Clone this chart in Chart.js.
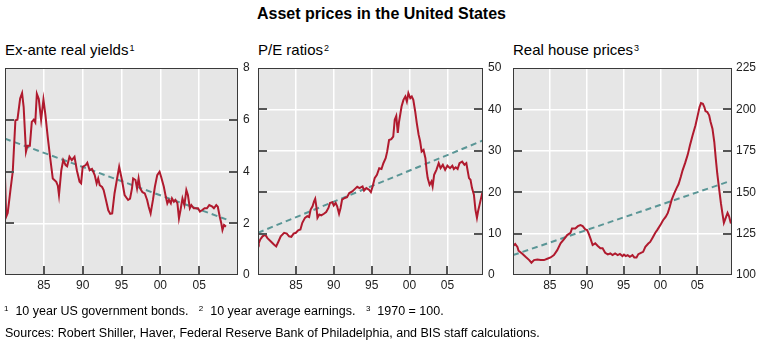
<!DOCTYPE html>
<html>
<head>
<meta charset="utf-8">
<script src="https://cdn.jsdelivr.net/npm/chart.js@4.4.1/dist/chart.umd.min.js"></script>
<style>
  body { margin: 0; width: 763px; height: 348px; background: #fff; position: relative; overflow: hidden;
         font-family: "Liberation Sans", Arial, sans-serif; color: #000; }
  canvas { position: absolute; left: 0; top: 0; }
  .titulo { position: absolute; top: 5px; left: 0; width: 763px; text-align: center; font-weight: bold; font-size: 16px; line-height: 18px; }
  .panel-titulo { position: absolute; top: 41px; font-size: 15px; line-height: 17px; white-space: nowrap; }
  .panel-titulo sup { font-size: 9px; vertical-align: top; position: relative; top: -1px; margin-left: 1px; }
  .nota { position: absolute; left: 4px; font-size: 12.5px; line-height: 14px; white-space: pre; }
  .nota sup { font-size: 8px; vertical-align: top; position: relative; top: -2px; }
</style>
</head>
<body>
<div class="titulo">Asset prices in the United States</div>
<div class="panel-titulo" style="left:5px">Ex-ante real yields<sup>1</sup></div>
<div class="panel-titulo" style="left:258px">P/E ratios<sup>2</sup></div>
<div class="panel-titulo" style="left:513px">Real house prices<sup>3</sup></div>

<canvas id="rendimientos" width="763" height="348"></canvas>
<canvas id="per" width="763" height="348"></canvas>
<canvas id="viviendas" width="763" height="348"></canvas>

<div class="nota" style="top:304px"><sup>1</sup>  10 year US government bonds.   <sup>2</sup>  10 year average earnings.   <sup>3</sup>  1970 = 100.</div>
<div class="nota" style="top:326px; left:5px">Sources: Robert Shiller, Haver, Federal Reserve Bank of Philadelphia, and BIS staff calculations.</div>

<script>
// Años marcados en el eje horizontal (se muestran como "85", "90", ...)
const anosEje = [1985, 1990, 1995, 2000, 2005];

// Rendimientos reales ex-ante, bonos a 10 años (%)
const rendAnos = [1980.0, 1980.15, 1980.35, 1980.7, 1981.0, 1981.34, 1981.6, 1981.95, 1982.2, 1982.4,
  1982.7, 1982.9, 1983.2, 1983.45, 1983.7, 1983.9, 1984.1, 1984.35, 1984.65, 1984.95,
  1985.2, 1985.5, 1985.8, 1986.15, 1986.6, 1986.8, 1986.95, 1987.25, 1987.5, 1987.8,
  1988.0, 1988.3, 1988.6, 1988.95, 1989.25, 1989.6, 1989.8, 1990.0, 1990.4, 1990.6,
  1990.9, 1991.2, 1991.55, 1991.8, 1992.0, 1992.2, 1992.5, 1992.7, 1993.0, 1993.3,
  1993.55, 1993.8, 1994.1, 1994.4, 1994.7, 1995.06, 1995.4, 1995.85, 1996.1, 1996.35,
  1996.5, 1996.8, 1997.0, 1997.2, 1997.4, 1997.7, 1998.0, 1998.3, 1998.5, 1998.75,
  1999.05, 1999.3, 1999.6, 1999.9, 2000.1, 2000.45, 2000.7, 2000.9, 2001.1, 2001.35,
  2001.5, 2001.75, 2001.95, 2002.2, 2002.4, 2002.6, 2002.85, 2003.1, 2003.35, 2003.55,
  2003.8, 2004.0, 2004.3, 2004.55, 2004.85, 2005.1, 2005.4, 2005.7, 2006.0, 2006.3,
  2006.7, 2006.9, 2007.2, 2007.4, 2007.65, 2007.85, 2008.0, 2008.2, 2008.45];
const rendValores = [3.8, 2.25, 2.4, 3.28, 4.0, 5.98, 6.0, 6.82, 7.03, 6.5,
  4.76, 5.0, 5.0, 5.92, 6.0, 5.9, 7.0, 6.8, 6.0, 6.78,
  6.2, 5.34, 4.57, 3.73, 3.6, 3.45, 3.09, 4.05, 4.44, 4.25,
  4.2, 4.57, 4.44, 4.57, 4.05, 3.6, 3.54, 4.18, 4.25, 4.34,
  4.05, 4.1, 3.86, 3.54, 3.73, 3.47, 3.4, 3.28, 2.9, 2.5,
  2.36, 2.38, 3.15, 3.67, 4.18, 3.67, 3.09, 2.9, 2.95, 3.35,
  3.73, 3.67, 3.35, 3.73, 3.35, 3.2, 3.15, 2.9, 2.64, 2.38,
  2.9, 3.41, 3.86, 3.99, 3.8, 3.41, 3.03, 2.77, 2.9, 2.77,
  2.96, 2.83, 2.9, 2.77, 2.19, 2.51, 2.96, 2.7, 3.28, 3.09,
  2.58, 2.7, 2.58, 2.58, 2.58, 2.45, 2.51, 2.58, 2.58, 2.7,
  2.64, 2.58, 2.7, 2.64, 2.25, 2.0, 1.74, 1.93, 1.87];
const rendTendAnos = [1980, 2008.5];
const rendTendValores = [5.27, 2.15];

// Relación precio/beneficio (beneficio medio a 10 años)
const perAnos = [1980.0, 1980.1, 1980.3, 1980.6, 1980.95, 1981.25, 1981.7, 1982.1, 1982.4, 1982.7,
  1983.0, 1983.45, 1983.8, 1984.1, 1984.4, 1984.7, 1985.0, 1985.3, 1985.6, 1985.85,
  1986.2, 1986.5, 1986.75, 1986.95, 1987.2, 1987.4, 1987.55, 1987.7, 1987.85, 1988.1,
  1988.35, 1988.7, 1989.0, 1989.3, 1989.5, 1989.8, 1990.0, 1990.25, 1990.45, 1990.7,
  1990.9, 1991.1, 1991.45, 1991.75, 1992.05, 1992.45, 1992.8, 1993.1, 1993.4, 1993.8,
  1994.0, 1994.3, 1994.65, 1994.9, 1995.15, 1995.4, 1995.7, 1996.0, 1996.3, 1996.55,
  1996.85, 1997.05, 1997.3, 1997.6, 1997.85, 1998.05, 1998.25, 1998.45, 1998.6, 1998.95,
  1999.2, 1999.45, 1999.65, 1999.85, 2000.1, 2000.3, 2000.5, 2000.75, 2000.95, 2001.2,
  2001.4, 2001.6, 2001.85, 2002.1, 2002.25, 2002.4, 2002.65, 2002.9, 2003.05, 2003.25,
  2003.55, 2003.85, 2004.1, 2004.4, 2004.7, 2005.0, 2005.35, 2005.65, 2005.85, 2006.1,
  2006.35, 2006.6, 2006.95, 2007.25, 2007.5, 2007.85, 2008.05, 2008.25, 2008.5, 2008.7,
  2008.9, 2009.05, 2009.25, 2009.6];
const perValores = [8.1, 7.7, 8.6, 9.35, 9.75, 8.9, 8.1, 7.35, 6.9, 8.1,
  9.35, 10.2, 10.0, 9.35, 9.2, 10.0, 10.2, 10.8, 11.0, 12.6,
  13.8, 14.2, 14.0, 15.8, 16.6, 17.8, 18.4, 16.6, 13.8, 14.6,
  14.4, 14.8, 15.2, 16.2, 17.4, 17.6, 16.8, 17.4, 16.6, 14.8,
  16.2, 18.2, 18.6, 18.8, 19.8, 20.2, 20.8, 21.3, 21.0, 21.4,
  20.4, 21.0, 20.6, 20.0, 21.5, 23.4, 24.2, 25.8, 25.6, 27.0,
  28.2, 29.8, 32.6, 32.8, 33.4, 37.5, 38.4, 34.3, 36.8, 40.7,
  42.3, 43.1, 41.9, 43.9, 42.7, 43.1, 42.3, 39.5, 36.8, 33.9,
  32.3, 29.8, 30.2, 28.2, 25.4, 23.4, 21.8, 22.6, 21.4, 24.2,
  25.4, 27.0, 25.8, 26.6, 25.4, 26.4, 25.8, 26.4, 25.6, 26.0,
  25.6, 27.0, 27.4, 26.6, 27.0, 23.4, 23.0, 21.0, 19.4, 15.8,
  13.8, 15.4, 17.0, 19.8];
const perTendAnos = [1980, 2009.7];
const perTendValores = [10.2, 32.5];

// Precios reales de la vivienda (1970 = 100)
const vivAnos = [1980.0, 1980.15, 1980.3, 1980.6, 1980.75, 1981.3, 1981.7, 1982.2, 1982.5, 1982.85,
  1983.3, 1983.75, 1984.2, 1984.65, 1985.1, 1985.55, 1986.0, 1986.45, 1986.9, 1987.35,
  1987.8, 1988.0, 1988.45, 1988.8, 1989.15, 1989.45, 1989.8, 1990.05, 1990.25, 1990.5,
  1990.8, 1991.15, 1991.5, 1991.85, 1992.15, 1992.5, 1992.85, 1993.2, 1993.5, 1993.85,
  1994.2, 1994.5, 1994.85, 1995.05, 1995.3, 1995.55, 1995.85, 1996.2, 1996.45, 1996.75,
  1997.0, 1997.35, 1997.65, 1997.95, 1998.35, 1998.6, 1998.95, 1999.3, 1999.55, 2000.05,
  2000.35, 2000.7, 2001.0, 2001.25, 2001.5, 2001.85, 2002.2, 2002.45, 2002.75, 2003.0,
  2003.35, 2003.7, 2004.0, 2004.35, 2004.75, 2005.05, 2005.3, 2005.5, 2005.75, 2005.95,
  2006.1, 2006.35, 2006.6, 2006.8, 2007.05, 2007.3, 2007.5, 2007.7, 2007.95, 2008.2,
  2008.4, 2008.6, 2008.9, 2009.1, 2009.3, 2009.55];
const vivValores = [117.5, 118.1, 118.7, 117.0, 114.7, 112.7, 111.0, 109.0, 107.4, 109.0,
  109.4, 109.0, 109.0, 109.8, 110.6, 112.0, 115.0, 119.1, 121.5, 124.1,
  125.5, 128.1, 128.1, 129.5, 130.1, 129.5, 127.5, 127.1, 125.1, 122.1,
  118.1, 119.1, 117.5, 116.1, 116.1, 113.4, 112.4, 113.0, 112.0, 113.0,
  112.0, 112.7, 111.4, 112.3, 111.4, 112.0, 111.0, 112.0, 110.6, 110.6,
  112.6, 113.4, 114.0, 117.0, 119.0, 120.0, 122.7, 125.5, 127.1, 130.7,
  133.1, 135.1, 137.5, 141.1, 145.2, 149.2, 152.6, 154.8, 159.2, 163.2,
  167.7, 172.7, 178.3, 184.3, 190.4, 196.4, 201.4, 203.8, 203.4, 201.4,
  199.0, 198.4, 196.4, 192.4, 188.4, 180.3, 170.3, 161.3, 152.2, 143.2,
  137.2, 131.5, 135.1, 137.5, 135.5, 131.1];
const vivTendAnos = [1980, 2009.1];
const vivTendValores = [112, 156.2];

Chart.defaults.font.family = '"Liberation Sans", Arial, sans-serif';
Chart.defaults.font.size = 12;

const puntos = (xs, ys) => xs.map((x, i) => ({ x, y: ys[i] }));

// Fondo gris del área de trazado, marco y marcas interiores de los ejes
const marcoPanel = {
  id: 'marcoPanel',
  beforeDraw(chart) {
    const { ctx, chartArea: a } = chart;
    ctx.save();
    ctx.fillStyle = '#e6e6e6';
    ctx.fillRect(a.left, a.top, a.right - a.left, a.bottom - a.top);
    ctx.restore();
  },
  afterDraw(chart) {
    const { ctx, chartArea: a, scales } = chart;
    const linea = (x1, y1, x2, y2) => { ctx.beginPath(); ctx.moveTo(x1, y1); ctx.lineTo(x2, y2); ctx.stroke(); };
    ctx.save();
    ctx.strokeStyle = '#555';
    ctx.lineWidth = 2;
    scales.y.ticks.forEach(t => {
      const py = Math.round(scales.y.getPixelForValue(t.value));
      if (py <= a.top + 1 || py >= a.bottom - 1) return;
      linea(a.left, py, a.left + 9, py);
      linea(a.right - 9, py, a.right, py);
    });
    scales.x.ticks.forEach(t => {
      const px = Math.round(scales.x.getPixelForValue(t.value));
      linea(px, a.bottom, px, a.bottom - 9);
    });
    ctx.strokeStyle = '#3a3a3a';
    ctx.lineWidth = 1;
    ctx.strokeRect(Math.round(a.left) + 0.5, Math.round(a.top) + 0.5,
      Math.round(a.right - a.left) - 1, Math.round(a.bottom - a.top) - 1);
    ctx.restore();
  }
};

function crearPanel(id, p) {
  new Chart(document.getElementById(id), {
    type: 'line',
    data: {
      datasets: [
        { data: puntos(p.anos, p.valores), borderColor: '#b01a2e', borderWidth: 2, pointRadius: 0, tension: 0 },
        { data: puntos(p.tendAnos, p.tendValores), borderColor: '#5a9696', borderWidth: 2,
          borderDash: [6, 4], pointRadius: 0 }
      ]
    },
    options: {
      responsive: false,
      animation: false,
      events: [],
      layout: { padding: { left: p.izq, top: 68, right: 763 - p.der - 30, bottom: 348 - 275 - 20 } },
      plugins: { legend: { display: false }, tooltip: { enabled: false } },
      scales: {
        x: {
          type: 'linear', min: 1980, max: p.xMax,
          afterBuildTicks: s => { s.ticks = anosEje.map(v => ({ value: v })); },
          afterFit: s => { s.height = 20; },
          grid: { color: '#ffffff', lineWidth: 1.5, drawTicks: false },
          border: { display: false },
          ticks: { callback: v => String(v).slice(2), color: '#222', padding: 3, maxRotation: 0, autoSkip: false }
        },
        y: {
          position: 'right', min: p.yMin, max: p.yMax,
          afterFit: s => { s.width = 30; },
          grid: { color: '#ffffff', lineWidth: 1.5, drawTicks: false },
          border: { display: false },
          ticks: { stepSize: p.paso, color: '#222', padding: p.sep }
        }
      }
    },
    plugins: [marcoPanel]
  });
}

crearPanel('rendimientos', { anos: rendAnos, valores: rendValores, tendAnos: rendTendAnos, tendValores: rendTendValores,
  izq: 5, der: 238, xMax: 2010, yMin: 0, yMax: 8, paso: 2, sep: 5 });
crearPanel('per', { anos: perAnos, valores: perValores, tendAnos: perTendAnos, tendValores: perTendValores,
  izq: 258, der: 483, xMax: 2009.7, yMin: 0, yMax: 50, paso: 10, sep: 5 });
crearPanel('viviendas', { anos: vivAnos, valores: vivValores, tendAnos: vivTendAnos, tendValores: vivTendValores,
  izq: 513, der: 732, xMax: 2009.7, yMin: 100, yMax: 225, paso: 25, sep: 4 });
</script>
</body>
</html>
